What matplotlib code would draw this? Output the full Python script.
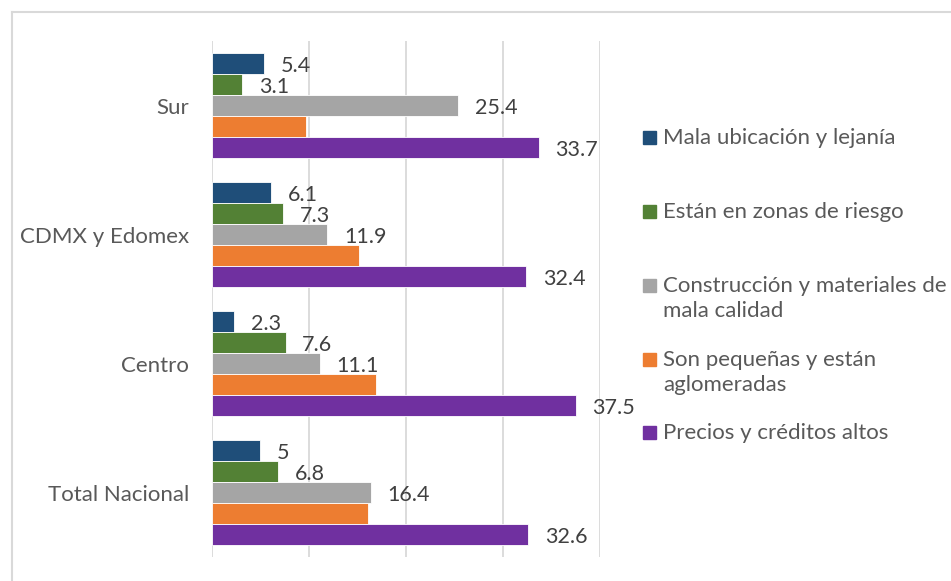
import matplotlib.pyplot as plt
import numpy as np
from matplotlib.lines import Line2D
from matplotlib.patches import Rectangle

plt.rcParams["font.family"] = ["Lato", "DejaVu Sans"]

regiones = ["Total Nacional", "Centro", "CDMX y Edomex", "Sur"]
series = ["Mala ubicación y lejanía", "Están en zonas de riesgo",
          "Construcción y materiales de\nmala calidad",
          "Son pequeñas y están\naglomeradas", "Precios y créditos altos"]
mala_ubicacion = [5.0, 2.3, 6.1, 5.4]
zonas_riesgo = [6.8, 7.6, 7.3, 3.1]
construccion = [16.4, 11.1, 11.9, 25.4]
pequenas = [16.1, 16.9, 15.2, 9.7]
precios = [32.6, 37.5, 32.4, 33.7]
colores = ["#1F4E79", "#538135", "#A5A5A5", "#ED7D31", "#7030A0"]
con_etiqueta = [True, True, True, False, True]

valores = [mala_ubicacion, zonas_riesgo, construccion, pequenas, precios]

fig = plt.figure(figsize=(9.51, 5.81), dpi=100)
ax = fig.add_axes([0.2229, 0.0413, 0.408, 0.8881])

y = np.arange(len(regiones))
h = 0.163
for i, (vals, col) in enumerate(zip(valores, colores)):
    pos = y + (2 - i) * h
    bars = ax.barh(pos, vals, height=h, color=col, edgecolor="white", linewidth=0.6, zorder=3)
    if con_etiqueta[i]:
        for b, v in zip(bars, vals):
            txt = f"{v:g}"
            ax.annotate(txt, (b.get_width(), b.get_y() + h / 2), xytext=(12, -1.5),
                        textcoords="offset points", va="center", ha="left",
                        fontsize=15.5, color="#404040")

ax.set_xlim(0, 40)
ax.set_ylim(-0.5, len(regiones) - 0.5)
ax.set_xticks([0, 10, 20, 30, 40])
ax.set_xticklabels([])
ax.tick_params(axis="x", length=0)
ax.tick_params(axis="y", length=0, pad=16.5, labelsize=16, labelcolor="#595959")
ax.set_yticks(y)
ax.set_yticklabels(regiones)
ax.grid(axis="x", color="#D9D9D9", linewidth=1.3, zorder=0)
for s in ax.spines.values():
    s.set_visible(False)

# leyenda a mano
ley_y = [137, 211, 285, 359, 432]
for nombre, col, yy in zip(series, colores, ley_y):
    fy = 1 - yy / 581
    fig.patches.append(Rectangle((643 / 951, fy - 6.5 / 581), 13 / 951, 13 / 581,
                                 transform=fig.transFigure, color=col))
    fig.text(663 / 951, fy + 9 / 581, nombre, va="top", ha="left", fontsize=16,
             color="#595959", linespacing=1.3)

# marco
fig.add_artist(Line2D([12 / 951, 12 / 951], [0, 1 - 12 / 581], transform=fig.transFigure,
                      color="#D9D9D9", linewidth=1.5))
fig.add_artist(Line2D([12 / 951, 1], [1 - 12 / 581, 1 - 12 / 581], transform=fig.transFigure,
                      color="#D9D9D9", linewidth=1.5))

fig.savefig("out.png", dpi=100)
